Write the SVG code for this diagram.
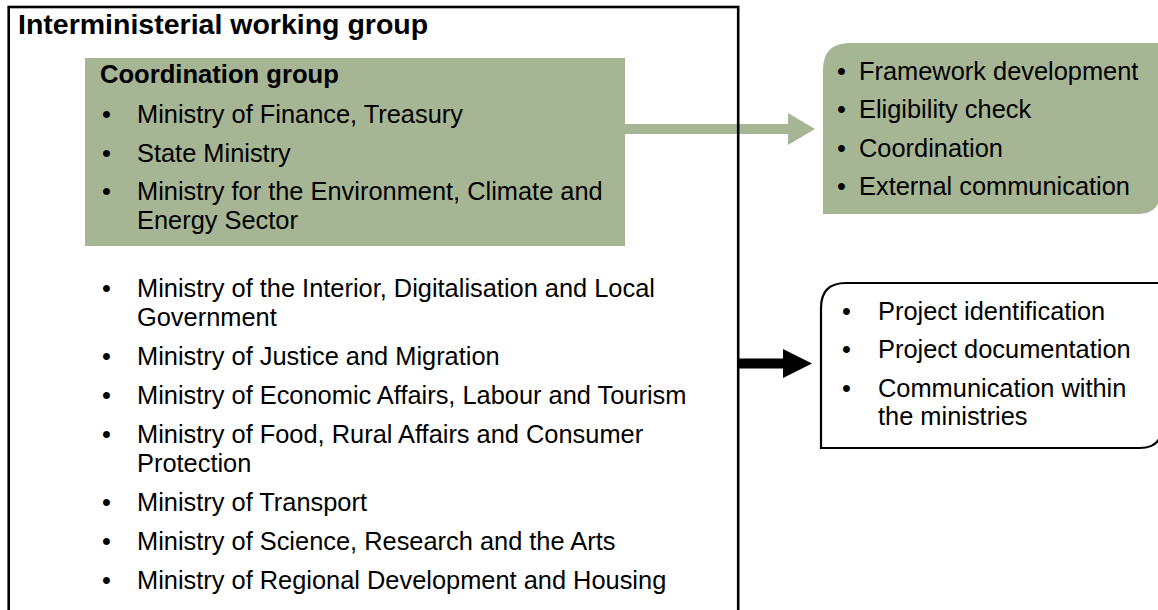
<svg xmlns="http://www.w3.org/2000/svg" width="1158" height="610" viewBox="0 0 1158 610">
<style>
text{font-family:"Liberation Sans",Arial,sans-serif;fill:#000;}
.b{font-size:25.4px;}
.h{font-size:28.5px;font-weight:bold;}
.h2{font-size:25.6px;font-weight:bold;}
.green{fill:#A6B594;}
</style>
<rect width="1158" height="610" fill="#fff"/>
<g id="connectors">
<path class="green" d="M625,124 H788 V113 L815,129 L788,145 V134 H625 Z"/>
<path fill="#000" d="M738,358.5 H783 V349 L812,363.5 L783,378 V368.5 H738 Z"/>
</g>
<g id="working-group">
<rect x="8.7" y="7" width="729.5" height="620" fill="none" stroke="#000" stroke-width="2.6"/>
<text class="h" x="18" y="34">Interministerial working group</text>
<g class="b">
<text x="102" y="297">•</text><text x="137" y="297">Ministry of the Interior, Digitalisation and Local</text>
<text x="137" y="326">Government</text>
<text x="102" y="365">•</text><text x="137" y="365">Ministry of Justice and Migration</text>
<text x="102" y="404">•</text><text x="137" y="404">Ministry of Economic Affairs, Labour and Tourism</text>
<text x="102" y="443">•</text><text x="137" y="443">Ministry of Food, Rural Affairs and Consumer</text>
<text x="137" y="472">Protection</text>
<text x="102" y="511">•</text><text x="137" y="511">Ministry of Transport</text>
<text x="102" y="550">•</text><text x="137" y="550">Ministry of Science, Research and the Arts</text>
<text x="102" y="589">•</text><text x="137" y="589">Ministry of Regional Development and Housing</text>
</g>
</g>
<g id="coordination-group">
<rect class="green" x="85" y="58" width="540" height="188"/>
<text class="h2" x="100" y="83">Coordination group</text>
<g class="b">
<text x="102" y="123">•</text><text x="137" y="123">Ministry of Finance, Treasury</text>
<text x="102" y="162">•</text><text x="137" y="162">State Ministry</text>
<text x="102" y="200">•</text><text x="137" y="200">Ministry for the Environment, Climate and</text>
<text x="137" y="229">Energy Sector</text>
</g>
</g>
<g id="coordination-tasks">
<path class="green" d="M823,70 Q823,43 850,43 H1160 V192 Q1160,214 1138,214 H823 Z"/>
<g class="b">
<text x="837" y="80">•</text><text x="859" y="80">Framework development</text>
<text x="837" y="118">•</text><text x="859" y="118">Eligibility check</text>
<text x="837" y="157">•</text><text x="859" y="157">Coordination</text>
<text x="837" y="195">•</text><text x="859" y="195">External communication</text>
</g>
</g>
<g id="ministry-tasks">
<path d="M821,308 Q821,283 846,283 H1162 V426 Q1162,448 1140,448 H821 Z" fill="#fff" stroke="#000" stroke-width="2.2"/>
<g class="b">
<text x="842" y="320">•</text><text x="878" y="320">Project identification</text>
<text x="842" y="358">•</text><text x="878" y="358">Project documentation</text>
<text x="842" y="397">•</text><text x="878" y="397">Communication within</text>
<text x="878" y="425">the ministries</text>
</g>
</g>
</svg>
